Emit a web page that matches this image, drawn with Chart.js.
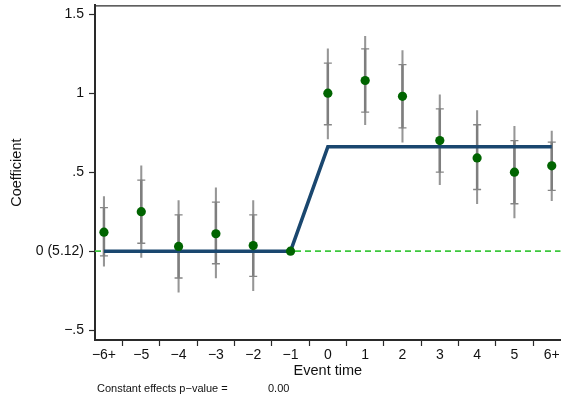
<!DOCTYPE html>
<html><head><meta charset="utf-8">
<script src="https://cdn.jsdelivr.net/npm/chart.js@4/dist/chart.umd.min.js"></script>
<style>html,body{margin:0;padding:0;background:#fff}canvas{display:block}</style>
</head><body>
<canvas id="c" width="566" height="402"></canvas>
<script>
// ---- data ----
const eventTimes  = [-6, -5, -4, -3, -2, -1, 0, 1, 2, 3, 4, 5, 6];
const xTickLabels = ['−6+','−5','−4','−3','−2','−1','0','1','2','3','4','5','6+'];
const yTickValues = [-0.5, 0, 0.5, 1, 1.5];
const yTickLabels = ['−.5','0 (5.12)','.5','1','1.5'];
const coef    = [0.12, 0.25, 0.03, 0.11, 0.035, 0, 1.00, 1.08, 0.98, 0.70, 0.59, 0.50, 0.54];
const ciLo    = [-0.03, 0.05, -0.17, -0.08, -0.16, null, 0.80, 0.88, 0.78, 0.50, 0.39, 0.30, 0.385];
const ciHi    = [0.275, 0.45, 0.23, 0.31, 0.23, null, 1.19, 1.28, 1.18, 0.90, 0.80, 0.70, 0.69];
const bandLo  = [-0.095, -0.04, -0.26, -0.17, -0.25, null, 0.71, 0.80, 0.69, 0.42, 0.30, 0.21, 0.32];
const bandHi  = [0.345, 0.54, 0.32, 0.40, 0.32, null, 1.28, 1.36, 1.27, 0.99, 0.89, 0.79, 0.76];
const fitLine = [0, 0, 0, 0, 0, 0, 0.66, 0.66, 0.66, 0.66, 0.66, 0.66, 0.66];
const refLevel = 0;
const xTitle = 'Event time';
const yTitle = 'Coefficient';
const noteLabel = 'Constant effects p−value =';
const noteValue = '0.00';

// ---- axis ranges ----
const xRange = [-6.24, 6.24];
const yRange = [-0.5625, 1.556];

const FONT = '"Liberation Sans", Arial, Helvetica, sans-serif';
const AXIS = '#2a2a2a';

const barData = (lo, hi) => eventTimes
  .map((x, i) => (lo[i] == null ? null : {x: x, y: [lo[i], hi[i]]}))
  .filter(d => d);
const capData = [];
eventTimes.forEach((x, i) => {
  if (ciLo[i] != null) { capData.push({x: x, y: ciLo[i]}); capData.push({x: x, y: ciHi[i]}); }
});

const extras = {
  id: 'extras',
  afterDraw(chart) {
    const {ctx, chartArea: a} = chart;
    ctx.save();
    ctx.strokeStyle = AXIS; ctx.lineWidth = 1.2;
    ctx.beginPath(); ctx.moveTo(a.left, a.top + 0.6); ctx.lineTo(a.right, a.top + 0.6); ctx.stroke();
    ctx.font = '11px ' + FONT;
    ctx.fillStyle = '#111'; ctx.textBaseline = 'middle'; ctx.textAlign = 'left';
    ctx.fillText(noteLabel, 97, 389);
    ctx.fillText(noteValue, 268, 389);
    ctx.restore();
  }
};

new Chart(document.getElementById('c'), {
  type: 'line',
  data: {
    datasets: [
      { type: 'line', order: 6, data: [{x: xRange[0], y: refLevel}, {x: xRange[1], y: refLevel}],
        borderColor: '#3cc83c', borderWidth: 1.8, borderDash: [6, 4], pointRadius: 0, fill: false },
      { type: 'bar', order: 5, data: barData(bandLo, bandHi), backgroundColor: '#969696',
        barThickness: 1.4, grouped: false, borderWidth: 0 },
      { type: 'bar', order: 4, data: barData(ciLo, ciHi), backgroundColor: '#7e7e7e',
        barThickness: 1.8, grouped: false, borderWidth: 0 },
      { type: 'line', order: 3, data: capData, showLine: false, pointStyle: 'line',
        pointRadius: 4, pointBorderWidth: 1.3, pointBorderColor: '#858585', pointBackgroundColor: '#858585' },
      { type: 'line', order: 2, data: eventTimes.map((x, i) => ({x: x, y: fitLine[i]})),
        borderColor: '#1a476f', borderWidth: 3.5, pointRadius: 0, fill: false, tension: 0 },
      { type: 'line', order: 1, data: eventTimes.map((x, i) => ({x: x, y: coef[i]})), showLine: false,
        pointRadius: 4.6, pointBackgroundColor: '#006400', pointBorderColor: '#006400', pointBorderWidth: 0 }
    ]
  },
  options: {
    responsive: false, animation: false, devicePixelRatio: 1,
    layout: { padding: { top: 1, right: 0, bottom: 20, left: 0 } },
    plugins: { legend: { display: false }, tooltip: { enabled: false } },
    scales: {
      x: {
        type: 'linear', min: xRange[0], max: xRange[1], offset: false,
        afterBuildTicks: s => { s.ticks = eventTimes.map(v => ({value: v})); },
        afterFit: s => { s.height = 42; s.paddingLeft = 0; s.paddingRight = 0; },
        ticks: { autoSkip: false, maxRotation: 0, padding: 1, color: '#111',
          font: { family: FONT, size: 14 }, callback: (v, i) => xTickLabels[i] },
        grid: { drawOnChartArea: false, drawTicks: true, tickLength: 6, tickColor: AXIS, tickWidth: 1.2 },
        border: { display: true, color: AXIS, width: 2 },
        title: { display: true, text: xTitle, color: '#111', font: { family: FONT, size: 14.5 },
          padding: { top: 0, bottom: 2.5 } }
      },
      y: {
        type: 'linear', min: yRange[0], max: yRange[1],
        afterBuildTicks: s => { s.ticks = yTickValues.map(v => ({value: v})); },
        afterFit: s => { s.width = 95; s.paddingTop = 0; s.paddingBottom = 0; },
        ticks: { autoSkip: false, padding: 5, color: '#111',
          font: { family: FONT, size: 14 }, callback: (v, i) => yTickLabels[i] },
        grid: { drawOnChartArea: false, drawTicks: true, tickLength: 6, tickColor: AXIS, tickWidth: 1.2 },
        border: { display: true, color: AXIS, width: 2 },
        title: { display: true, text: yTitle, color: '#111', font: { family: FONT, size: 14.5 },
          padding: { top: 8, bottom: 0 } }
      }
    }
  },
  plugins: [extras]
});
</script>
</body></html>
